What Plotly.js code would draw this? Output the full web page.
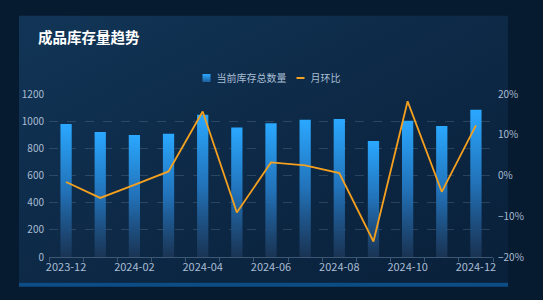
<!DOCTYPE html>
<html><head><meta charset="utf-8">
<script src="https://cdn.plot.ly/plotly-3.0.1.min.js"></script>
<style>html,body{margin:0;padding:0;background:#051528;}#chart{width:543px;height:300px;}</style>
</head><body><div id="chart"></div>
<script>
const months = ['2023-12','2024-01','2024-02','2024-03','2024-04','2024-05','2024-06','2024-07','2024-08','2024-09','2024-10','2024-11','2024-12'];
const stockTotal = [980, 920, 898, 908, 1048, 954, 984, 1011, 1016, 854, 1003, 964, 1084];
const momPct = [-1.6, -5.5, -2.3, 1.0, 15.7, -9.1, 3.2, 2.5, 0.6, -16.2, 18.2, -4.0, 12.3];
const seriesNames = ['当前库存总数量', '月环比'];
const chartTitle = '成品库存量趋势';

const tickText = months.map((m, i) => (i % 2 === 0 ? m : ''));
const font = 'Noto Sans CJK SC, sans-serif';

const traces = [
  {type:'bar', name:seriesNames[0], x:months, y:stockTotal, width:0.33,
   marker:{color:'#2a9cf0', line:{width:0}}, hoverinfo:'skip'},
  {type:'scatter', mode:'lines', name:seriesNames[1], x:months, y:momPct, yaxis:'y2',
   line:{color:'#f5a01e', width:1.8}, hoverinfo:'skip'}
];

const gridCol = 'rgba(150,175,200,0.22)';
const layout = {
  width:543, height:300,
  margin:{l:49, r:50, t:94, b:43},
  paper_bgcolor:'#061a30', plot_bgcolor:'rgba(0,0,0,0)',
  font:{family:font, color:'#9fb3c8'},
  title:{text:'<b>'+chartTitle+'</b>', x:38/543, xanchor:'left', xref:'container',
         y:1-38/300, yanchor:'middle', yref:'container', font:{size:14.5, color:'#ffffff', family:font}},
  showlegend:true,
  legend:{orientation:'h', x:0.5, xanchor:'center', xref:'container', y:1-78/300, yanchor:'middle', yref:'container',
          font:{size:10, color:'#a9bdd3', family:font}, bgcolor:'rgba(0,0,0,0)', traceorder:'normal'},
  xaxis:{type:'category', tickvals:months, ticktext:tickText, tickson:'boundaries', tickangle:0,
         ticks:'outside', ticklen:4, tickcolor:'#3d5874', showline:true, linecolor:'#3d5874', linewidth:1,
         showgrid:false, tickfont:{size:11, color:'#a9bdd3'}, zeroline:false, fixedrange:true},
  yaxis:{range:[0,1200], dtick:200, showgrid:true, gridcolor:gridCol, griddash:'dash', gridwidth:1,
         zeroline:false, showline:false, ticks:'', tickfont:{size:10, color:'#a9bdd3'}, ticklabelstandoff:4},
  yaxis2:{range:[-20,20], dtick:10, overlaying:'y', side:'right', showgrid:false, zeroline:false,
          ticksuffix:'%', tickfont:{size:10, color:'#a9bdd3'}, ticks:'', showline:false, ticklabelstandoff:4},
  shapes:[
    {type:'rect', xref:'paper', yref:'paper', x0:-30/444, x1:(508-49)/444, y0:-(283-257.3)/163, y1:(257.3-16)/163,
     fillcolor:'rgba(22,62,100,0.45)', line:{width:0}, layer:'below'},
    {type:'rect', xref:'paper', yref:'paper', x0:-30/444, x1:(508-49)/444, y0:-(287-257.3)/163, y1:-(283-257.3)/163,
     fillcolor:'#0d4d85', line:{width:0}, layer:'below'}
  ]
};

Plotly.newPlot('chart', traces, layout, {displayModeBar:false, staticPlot:true}).then(gd => {
  const svg = gd.querySelector('svg.main-svg');
  const ns = 'http://www.w3.org/2000/svg';
  let defs = svg.querySelector('defs');
  if (!defs) { defs = document.createElementNS(ns, 'defs'); svg.insertBefore(defs, svg.firstChild); }
  const mk = (id, stops, x2, y2) => {
    const g = document.createElementNS(ns, 'linearGradient');
    g.setAttribute('id', id); g.setAttribute('x1','0'); g.setAttribute('y1','0');
    g.setAttribute('x2', x2); g.setAttribute('y2', y2);
    stops.forEach(([o,c,a]) => { const s = document.createElementNS(ns,'stop');
      s.setAttribute('offset',o); s.setAttribute('stop-color',c); s.setAttribute('stop-opacity',a); g.appendChild(s); });
    defs.appendChild(g);
  };
  mk('barGrad', [['0','#2aa8ff',1],['0.5','#2376bf',0.95],['1','#1c3657',0.85]], '0', '1');
  mk('legGrad', [['0','#2aa8ff',1],['1','#1f5f9e',1]], '0', '1');
  mk('panelGrad', [['0','#143a5e',0.85],['1','#0b2440',0.6]], '1', '1');
  gd.querySelectorAll('.barlayer .point path').forEach(p => { p.style.fill = 'url(#barGrad)'; });
  const panel = gd.querySelectorAll('.layer-below .shapelayer path')[0];
  if (panel) { panel.style.fill = 'url(#panelGrad)'; panel.style.fillOpacity = 1; }

  // compact legend symbols like the reference
  const groups = Array.from(gd.querySelectorAll('.legend .traces'));
  const getY = g => { const m = /translate\(([-\d.]+)[ ,]+([-\d.]+)\)/.exec(g.getAttribute('transform') || ''); return m ? parseFloat(m[2]) : 0; };
  const textW = [];
  groups.forEach((g, i) => {
    const t = g.querySelector('text.legendtext');
    if (t) { t.setAttribute('x', 24); t.querySelectorAll('tspan').forEach(s => { if (s.hasAttribute('x')) s.setAttribute('x', 24); }); }
    textW.push(t ? t.getBBox().width : 60);
    g.querySelectorAll('path').forEach(p => {
      if (i === 0) {
        if (p.closest('.legendpoints') || p.closest('.legendsymbols')) {
          p.setAttribute('d', 'M-4,-4h8v8h-8Z'); p.setAttribute('transform', 'translate(14,0)');
          p.style.fill = 'url(#legGrad)'; p.style.stroke = 'none'; p.style.strokeWidth = '0';
        }
      } else {
        p.setAttribute('d', 'M10,0h8');
        p.style.strokeWidth = '2px';
      }
    });
  });
  // lay entries out: [sq 10..18][text 24..24+w] gap 10 [line][text]
  const total = 24 + textW[0] + 14 + textW[1];
  const startX = 543 / 2 - total / 2 - 10;
  const leg = gd.querySelector('g.legend');
  const lm = /translate\(([-\d.]+)[ ,]+([-\d.]+)\)/.exec(leg.getAttribute('transform'));
  const lx = lm ? parseFloat(lm[1]) : 0;
  if (groups[0]) groups[0].setAttribute('transform', 'translate(' + (startX - lx) + ',' + getY(groups[0]) + ')');
  if (groups[1]) groups[1].setAttribute('transform', 'translate(' + (startX - lx + 24 + textW[0]) + ',' + getY(groups[1]) + ')');
});
</script></body></html>
